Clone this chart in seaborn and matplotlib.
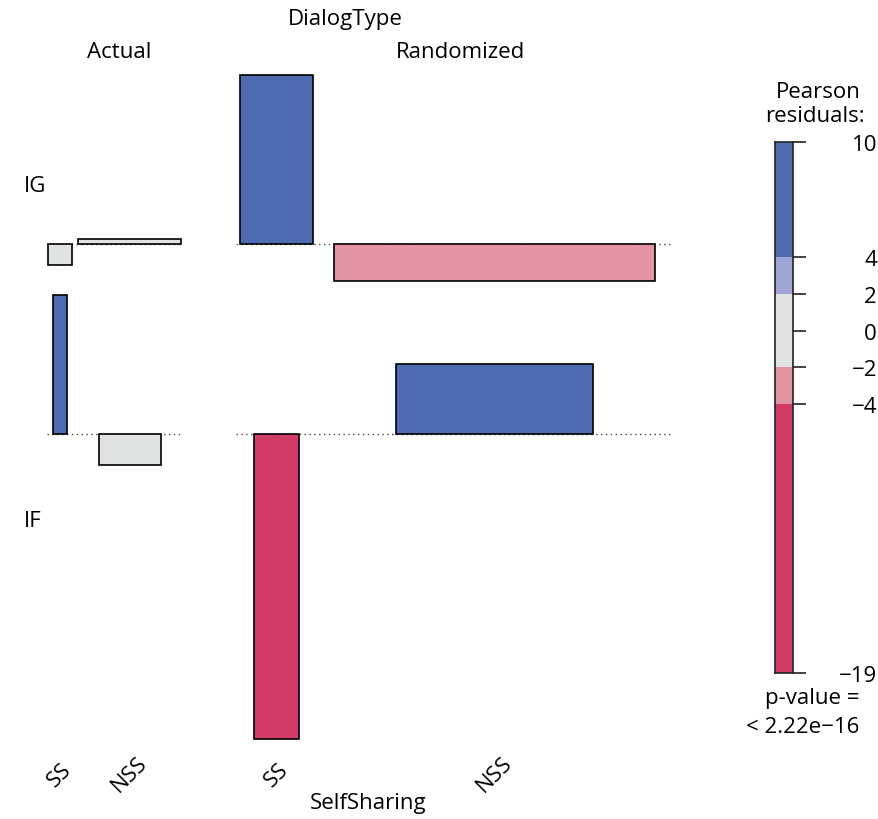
import numpy as np
import matplotlib
matplotlib.use("Agg")
import matplotlib.pyplot as plt
import seaborn as sns

# ---- data -------------------------------------------------------------
dialog_types = ["Actual", "Randomized"]
self_sharing = ["SS", "NSS"]
row_levels = ["IG", "IF"]

# Pearson residuals, columns ordered Actual-SS, Actual-NSS, Randomized-SS, Randomized-NSS
residuals_IG = [-1.34, 0.27, 10.27, -2.30]
residuals_IF = [8.49, -1.94, -18.68, 4.23]

# expected frequencies (bar widths are proportional to their square roots)
expected_IG = [5.43, 104.7, 52.9, 1028.5]
expected_IF = [2.04, 38.8, 20.0, 389.3]

p_value_text = "< 2.22e\u221216"
legend_breaks = [-4, -2, 2, 4]

# ---- style ------------------------------------------------------------
sns.set_theme(style="white")
plt.rcParams["font.family"] = ["Open Sans", "DejaVu Sans"]
plt.rcParams["text.color"] = "black"
plt.rcParams["ytick.color"] = "black"
plt.rcParams["ytick.labelcolor"] = "black"
FS = 16

BLUE = "#516bb2"
LIGHT_BLUE = "#a0a6d5"
GREY = "#e1e2e2"
LIGHT_RED = "#e294a3"
RED = "#d13c69"


def shade(r):
    if r > 4:
        return BLUE
    if r > 2:
        return LIGHT_BLUE
    if r >= -2:
        return GREY
    if r >= -4:
        return LIGHT_RED
    return RED


W, H = 879, 820
fig = plt.figure(figsize=(W / 100, H / 100), dpi=100)
ax = fig.add_axes([0, 0, 1, 1])
ax.set_xlim(0, W)
ax.set_ylim(H, 0)
ax.axis("off")

# ---- layout (pixel units) ---------------------------------------------
px_per_sqrt = 10.0      # bar width per unit of sqrt(expected)
px_per_resid = 16.37    # bar height per residual unit
pad = 0.055             # horizontal padding on each side, relative to bar width
group_starts = [47.0, 236.0]
baselines = {"IG": 244.5, "IF": 434.5}

res = {"IG": np.array(residuals_IG), "IF": np.array(residuals_IF)}
widths = {"IG": np.sqrt(expected_IG) * px_per_sqrt,
          "IF": np.sqrt(expected_IF) * px_per_sqrt}
col_w = np.maximum(widths["IG"], widths["IF"]) * (1 + 2 * pad)

centers = []
group_extent = []
for g in range(len(dialog_types)):
    x = group_starts[g]
    x0 = x
    for s in range(len(self_sharing)):
        k = g * len(self_sharing) + s
        centers.append(x + col_w[k] / 2)
        x += col_w[k]
    group_extent.append((x0, x - 3))
centers = np.array(centers)

# baselines
for row in row_levels:
    for (x0, x1) in group_extent:
        ax.hlines(baselines[row], x0, x1, colors="#444444",
                  linestyles=(0, (1, 2.5)), lw=1.0, zorder=1)

# residual bars
for row in row_levels:
    ax.bar(centers, -res[row] * px_per_resid, bottom=baselines[row],
           width=widths[row], color=[shade(r) for r in res[row]],
           edgecolor="black", linewidth=1.2, zorder=2)

# ---- labels -----------------------------------------------------------
ax.text(345, 20, "DialogType", ha="center", va="center", fontsize=FS)
for g, name in enumerate(dialog_types):
    x0, x1 = group_extent[g]
    ax.text((x0 + x1) / 2 + (4 if g == 0 else 8), 52, name,
            ha="center", va="center", fontsize=FS)

row_label_y = {"IG": 186, "IF": 522}
for row in row_levels:
    ax.text(24, row_label_y[row], row, ha="left", va="center", fontsize=FS)

for k, c in enumerate(centers):
    ax.text(c, 775, self_sharing[k % len(self_sharing)], rotation=45,
            ha="center", va="center", fontsize=FS)
ax.text(368, 804, "SelfSharing", ha="center", va="center", fontsize=FS)

# ---- shading legend ---------------------------------------------------
all_res = np.concatenate([res["IG"], res["IF"]])
rmin, rmax = all_res.min(), all_res.max()

top_px, bot_px = 143.3, 674.3
lax = fig.add_axes([775 / W, 1 - bot_px / H, 18 / W, (bot_px - top_px) / H])
edges = [rmin] + legend_breaks + [rmax]
mids = [(a + b) / 2 for a, b in zip(edges[:-1], edges[1:])]
lax.bar([0.5] * len(mids), np.diff(edges), bottom=edges[:-1], width=1.0,
        color=[shade(m) for m in mids], linewidth=0)
lax.set_xlim(0, 1)
lax.set_ylim(rmin, rmax)
for sp in lax.spines.values():
    sp.set_visible(True)
    sp.set_color("#222222")
    sp.set_linewidth(1.2)
ticks = [rmin, -4, -2, 0, 2, 4, rmax]
lax.set_yticks(ticks)
lax.set_yticklabels([f"{t:.0f}".replace("-", "\u2212") for t in ticks])
lax.set_xticks([])
lax.tick_params(axis="y", left=False, right=True, labelleft=False,
                labelright=True, length=9.4, width=1.2, color="#222222",
                labelcolor="black", direction="out",
                pad=(877 - 806) * 0.72, labelsize=FS)
for lab in lax.get_yticklabels():
    lab.set_horizontalalignment("right")

ax.text(818, 93, "Pearson", ha="center", va="center", fontsize=FS)
ax.text(815, 117, "residuals:", ha="center", va="center", fontsize=FS)
ax.text(812, 699, "p-value =", ha="center", va="center", fontsize=FS)
ax.text(803, 728, p_value_text, ha="center", va="center", fontsize=FS)

fig.savefig("out.png", dpi=100)
